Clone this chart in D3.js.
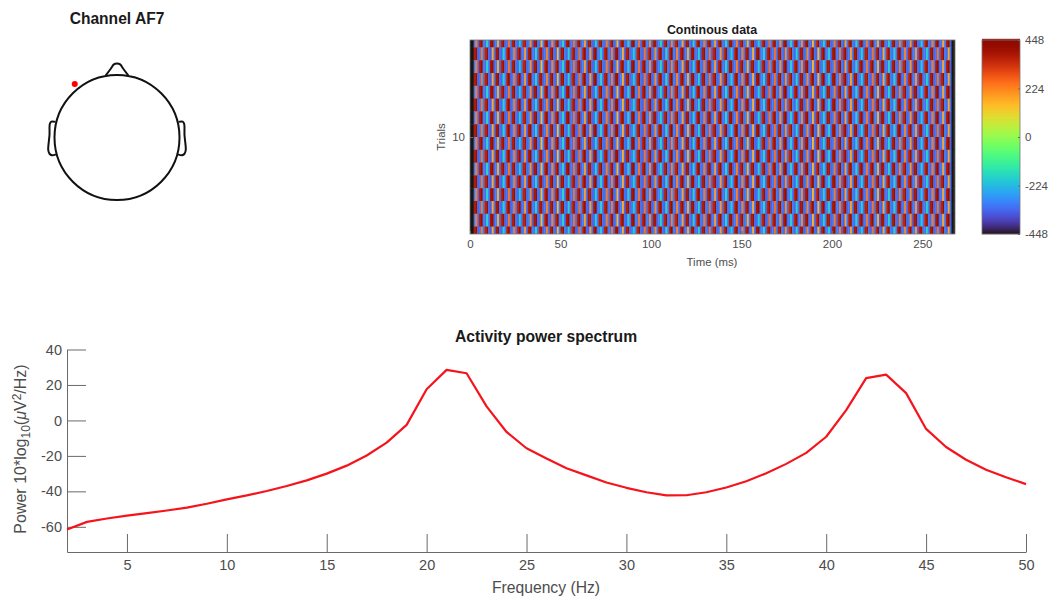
<!DOCTYPE html>
<meta charset="utf-8">
<style>
    html, body { margin: 0; background: #fff; }
    svg { display: block; font-family: "Liberation Sans", Arial, sans-serif; }
    .axis text { fill: #4d4d4d; font-family: "Liberation Sans", Arial, sans-serif; }
    .axis path, .axis line { stroke: #6a6a6a; stroke-width: 1; }
    .title { fill: #1a1a1a; font-weight: bold; text-anchor: middle; }
    .label { fill: #4d4d4d; text-anchor: middle; }
</style>
<svg width="1051" height="600"></svg>
<script src="https://d3js.org/d3.v7.min.js"></script>
<script>

    // power spectrum
    var freqs = [2,3,4,5,6,7,8,9,10,11,12,13,14,15,16,17,18,19,20,21,22,23,24,25,26,
        27,28,29,30,31,32,33,34,35,36,37,38,39,40,41,42,43,44,45,46,47,48,49,50];
    var power = [-61.5,-57.2,-55.3,-53.7,-52.3,-50.8,-49.2,-47,-44.5,-42.3,-39.8,-37,-33.8,-30,-25.5,-19.8,-12.5,-2.5,17.6,28.5,26.6,
        7.9,-6.5,-15.7,-21.5,-27,-31,-35,-38,-40.5,-42.3,-42.2,-40.5,-37.8,-34.3,-29.8,-24.5,-18.3,-9.2,5.8,23.9,25.8,15.4,
        -4.8,-15,-22.2,-27.8,-32,-35.9];
    var xTicks = [5,10,15,20,25,30,35,40,45,50];
    var yTicks = [-60,-40,-20,0,20,40];

    // image rows, 1 ms per cell, the trials swap between these two
    var cellMs = 1;
    var rowA = [null,null,
        370,410,-340,-320,230,-310,360,400,-330,-345,170,-315,
        380,415,-320,-340,-185,-305,365,405,-345,-310,240,-330,
        355,400,-335,-315,200,-340,375,420,-310,-330,-190,-320,
        360,395,-345,-320,225,-305,370,410,-325,-340,150,-315,
        385,415,-310,-335,-180,-330,350,400,-340,-320,250,-305,
        365,405,-330,-345,190,-315,375,420,-320,-305,-185,-340,
        355,395,-315,-330,235,-325,380,410,-345,-310,160,-335,
        370,400,-335,-320,-190,-305,360,415,-325,-340,245,-315,
        345,405,-340,-310,210,-330,375,395,-315,-345,-180,-320,
        365,420,-305,-335,225,-325,355,410,-345,-315,175,-305,
        380,400,-320,-330,-185,-340,370,415,-310,-325,240,-335,
        360,405,-340,-315,195,-320,350,420,-325,-305,-190,-330,
        375,410,-310,-345,230,-320,365,395,-335,-315,165,-340,
        385,420,-325,-305,-180,-330,355,400,-345,-320,250,-310,
        370,415,-315,-340,205,-325,345,405,-305,-335,-185,-320,
        380,395,-340,-310,220,-330,360,420,-320,-345,155,-315,
        365,410,-330,-305,-190,-340,375,400,-310,-325,235,-335,
        350,415,-345,-320,185,-305,385,405,-335,-315,-180,-330,
        370,395,-320,-340,245,-310,355,420,-325,-345,170,-305,
        360,400,-305,-330,-185,-320,380,410,-340,-315,225,-335,
        345,415,-335,-310,200,-340,365,395,-315,-325,-190,-305,
        375,405,-345,-320,240,-330,360,420,-310,-335,180,-320,
        null,null];
    var rowB = [null,null,
        -320,230,-340,365,405,-310,-330,-185,-315,380,415,-345,
        -310,170,-325,355,400,-340,-335,240,-305,370,410,-320,
        -340,-190,-315,360,395,-330,-305,205,-345,385,420,-320,
        -325,150,-310,365,405,-335,-345,225,-320,350,400,-305,
        -315,-180,-340,375,415,-325,-330,250,-310,355,410,-345,
        -305,185,-320,380,395,-335,-340,-185,-315,365,420,-325,
        -330,235,-305,345,405,-340,-310,160,-345,370,400,-320,
        -335,-190,-315,385,410,-305,-325,245,-340,355,415,-310,
        -320,215,-330,375,395,-345,-305,-180,-325,360,420,-315,
        -340,225,-310,350,400,-330,-315,175,-335,380,405,-305,
        -345,-185,-320,365,415,-310,-330,240,-325,370,395,-340,
        -310,195,-335,355,420,-320,-330,-180,-305,385,400,-345,
        -315,230,-340,360,410,-325,-305,165,-320,375,415,-335,
        -330,-190,-310,350,405,-345,-325,250,-315,365,395,-305,
        -340,205,-320,380,420,-330,-310,-185,-335,355,400,-325,
        -305,220,-345,370,410,-315,-340,155,-320,345,415,-330,
        -325,-180,-305,385,395,-340,-315,235,-335,360,420,-310,
        -345,185,-320,375,405,-305,-330,-190,-325,365,400,-340,
        -310,245,-335,355,415,-320,-305,170,-345,380,395,-315,
        -330,-185,-310,370,420,-325,-340,225,-305,350,405,-335,
        -315,200,-345,385,410,-320,-325,-190,-330,360,400,-310,
        -340,240,-305,375,415,-335,-320,180,-315,365,420,-345,
        null,null];
    var trials = [2,3,4,5,6,7,8,9,10,11,12,13,14,15,16,17];
    var timeTicks = [0,50,100,150,200,250];
    var colorTicks = [-448,-224,0,224,448];

    // electrode and head outline, in head units (radius .5)
    var electrode = [-0.338, 0.428];
    var nose = [[-0.09,0.497],[-0.05,0.55],[-0.025,0.585],[0,0.592],[0.025,0.585],[0.05,0.55],[0.09,0.497]];
    var earLeft = [[-0.492,0.125],[-0.525,0.127],[-0.537,0.11],[-0.54,0.02],[-0.55,-0.1],[-0.54,-0.13],[-0.52,-0.142],[-0.488,-0.135]];

    var svg = d3.select("svg");
    var plain = function(d) { return String(d); };

    // ---- head
    var hx = d3.scaleLinear().domain([-0.5, 0.5]).range([54.5, 179.5]);
    var hy = d3.scaleLinear().domain([-0.5, 0.5]).range([200, 75]);
    var headLine = d3.line().x(function(d) { return hx(d[0]); }).y(function(d) { return hy(d[1]); }).curve(d3.curveCatmullRom);

    svg.append("text").attr("class", "title").attr("x", 117).attr("y", 24)
        .attr("font-size", 15.6).text("Channel AF7");

    var head = svg.append("g").attr("fill", "none").attr("stroke", "#111").attr("stroke-width", 2);
    head.append("circle").attr("cx", hx(0)).attr("cy", hy(0)).attr("r", hx(0.5) - hx(0));
    head.append("path").attr("d", headLine(nose));
    head.append("path").attr("d", headLine(earLeft));
    head.append("path").attr("d", headLine(earLeft.map(function(d) { return [-d[0], d[1]]; })));

    svg.append("circle").attr("cx", hx(electrode[0])).attr("cy", hy(electrode[1])).attr("r", 3).attr("fill", "#f00");

    // ---- continuous data image
    var tx = d3.scaleLinear().domain([0, 268]).range([470, 955]);
    var ty = d3.scaleLinear().domain([2.42, 17.58]).range([40, 234]);
    var color = d3.scaleSequential(d3.interpolateTurbo).domain([-448, 448]);

    svg.append("clipPath").attr("id", "img").append("rect")
        .attr("x", 470).attr("y", 40).attr("width", 485).attr("height", 194);
    svg.append("filter").attr("id", "soft").append("feGaussianBlur").attr("stdDeviation", 0.4);

    var image = svg.append("g").attr("clip-path", "url(#img)").append("g").attr("filter", "url(#soft)");
    trials.forEach(function(t, r) {
        var row = r % 2 ? rowA : rowB;
        image.append("g").selectAll("rect")
            .data(row)
            .enter().append("rect")
            .attr("x", function(d, i) { return tx(i * cellMs); })
            .attr("width", tx(cellMs) - tx(0) + 0.4)
            .attr("y", ty(t))
            .attr("height", ty(t + 1) - ty(t) + 0.4)
            .attr("fill", function(d) { return d === null ? "#141414" : color(d); });
    });

    svg.append("rect").attr("x", 470).attr("y", 40).attr("width", 485).attr("height", 194)
        .attr("fill", "none").attr("stroke", "#777").attr("stroke-width", 0.8);

    var imgX = svg.append("g").attr("class", "axis").attr("transform", "translate(0,234)")
        .call(d3.axisBottom(tx).tickValues(timeTicks).tickSize(-3).tickPadding(6));
    imgX.select(".domain").remove();
    imgX.selectAll("text").attr("font-size", 11.5);

    var imgY = svg.append("g").attr("class", "axis").attr("transform", "translate(470,0)")
        .call(d3.axisLeft(ty).tickValues([10]).tickSize(-3).tickPadding(5));
    imgY.select(".domain").remove();
    imgY.selectAll("text").attr("font-size", 11.5);

    svg.append("text").attr("class", "title").attr("x", 712).attr("y", 34)
        .attr("font-size", 12.4).text("Continous data");
    svg.append("text").attr("class", "label").attr("x", 712).attr("y", 266)
        .attr("font-size", 11.4).text("Time (ms)");
    svg.append("text").attr("class", "label").attr("transform", "translate(445,137) rotate(-90)")
        .attr("font-size", 11.4).text("Trials");

    // ---- colorbar
    var cy = d3.scaleLinear().domain([-448, 448]).range([234, 40]);
    svg.append("g").selectAll("rect")
        .data(d3.range(-448, 448, 896 / 194))
        .enter().append("rect")
        .attr("x", 982).attr("width", 38)
        .attr("y", function(d) { return cy(d) - 1.2; })
        .attr("height", 1.4)
        .attr("fill", function(d) { return color(d); });
    svg.append("rect").attr("x", 982).attr("y", 40).attr("width", 38).attr("height", 194)
        .attr("fill", "none").attr("stroke", "#777").attr("stroke-width", 0.8);

    var cbar = svg.append("g").attr("class", "axis").attr("transform", "translate(1020,0)")
        .call(d3.axisRight(cy).tickValues(colorTicks).tickSize(-2).tickPadding(5).tickFormat(plain));
    cbar.select(".domain").remove();
    cbar.selectAll("text").attr("font-size", 11.5);

    // ---- power spectrum
    var x = d3.scaleLinear().domain([2, 50]).range([67, 1026]);
    var y = d3.scaleLinear().domain([-74.2, 40]).range([552, 349.5]);

    var xAxis = svg.append("g").attr("class", "axis").attr("transform", "translate(0,552)")
        .call(d3.axisBottom(x).tickValues(xTicks).tickSize(-18).tickPadding(8).tickSizeOuter(0));
    xAxis.selectAll("text").attr("font-size", 14.5);

    var yAxis = svg.append("g").attr("class", "axis").attr("transform", "translate(67,0)")
        .call(d3.axisLeft(y).tickValues(yTicks).tickSize(-19).tickPadding(5).tickSizeOuter(0).tickFormat(plain));
    yAxis.selectAll("text").attr("font-size", 14.5);

    svg.append("path")
        .datum(power)
        .attr("fill", "none")
        .attr("stroke", "#f5141c")
        .attr("stroke-width", 2.2)
        .attr("stroke-linejoin", "round")
        .attr("d", d3.line()
            .x(function(d, i) { return x(freqs[i]); })
            .y(function(d) { return y(d); }));

    svg.append("text").attr("class", "title").attr("x", 546).attr("y", 342)
        .attr("font-size", 15.7).text("Activity power spectrum");
    svg.append("text").attr("class", "label").attr("x", 546).attr("y", 593)
        .attr("font-size", 15.7).text("Frequency (Hz)");

    var yLabel = svg.append("text").attr("class", "label")
        .attr("transform", "translate(26,449) rotate(-90)").attr("font-size", 16);
    yLabel.append("tspan").text("Power 10*log");
    yLabel.append("tspan").attr("font-size", 12).attr("dy", 4).text("10");
    yLabel.append("tspan").attr("dy", -4).text("(");
    yLabel.append("tspan").attr("font-style", "italic").text("\u03bc");
    yLabel.append("tspan").text("V");
    yLabel.append("tspan").attr("font-size", 12).attr("dy", -5).text("2");
    yLabel.append("tspan").attr("dy", 5).text("/Hz)");

</script>
